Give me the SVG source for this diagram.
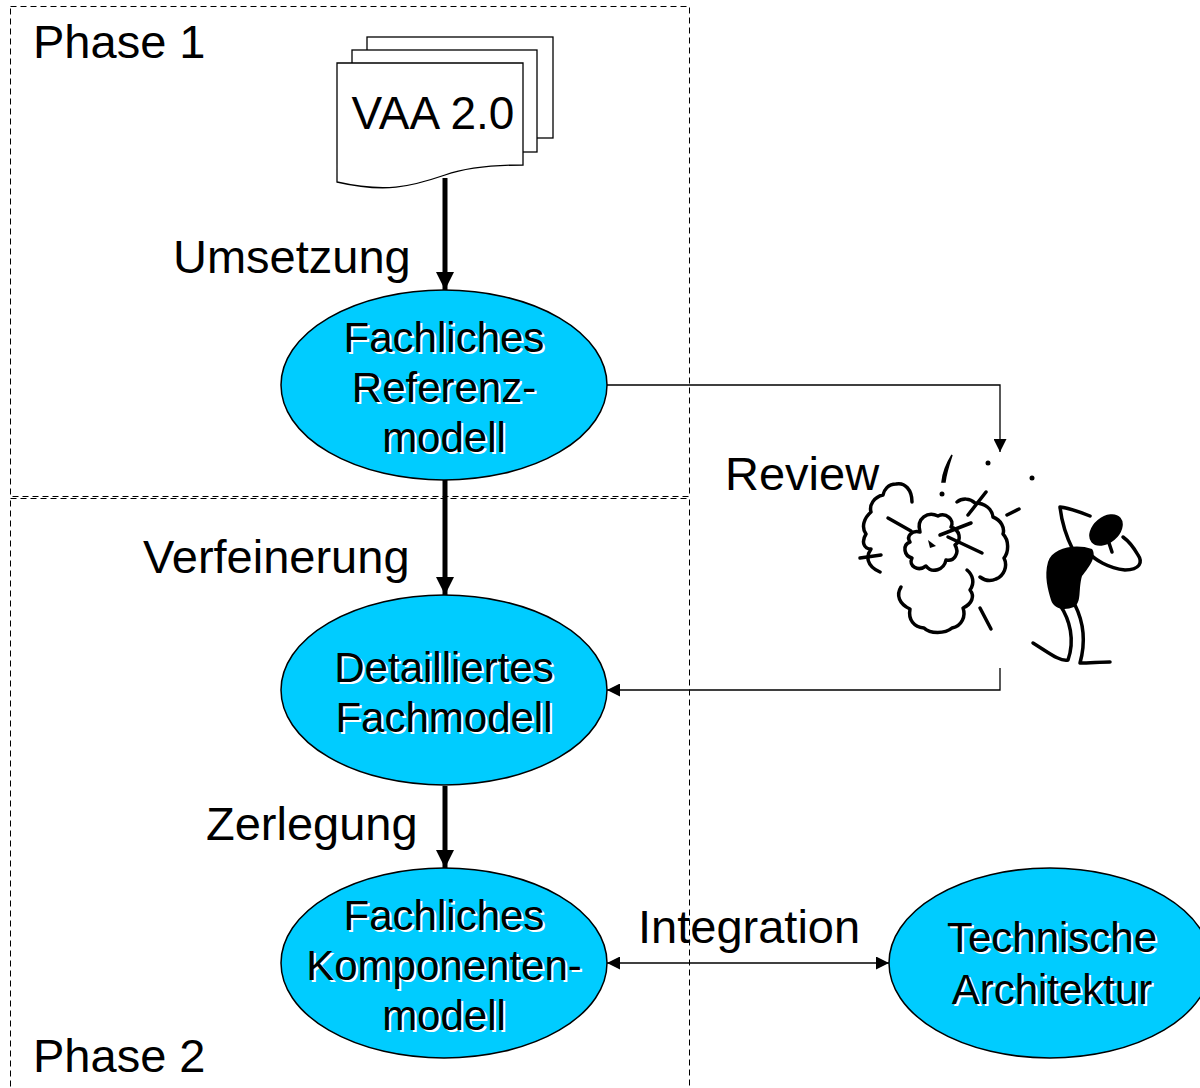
<svg xmlns="http://www.w3.org/2000/svg" width="1200" height="1088" viewBox="0 0 1200 1088">
  <style>
    .phase { fill: none; stroke: #000; stroke-width: 1; stroke-dasharray: 6 4; }
    .lbl { font-family: "Liberation Sans", Arial, sans-serif; font-size: 47px; fill: #000; }
    .ell { fill: #00CCFF; stroke: #000; stroke-width: 1.5; }
    .nt { font-family: "Liberation Sans", Arial, sans-serif; font-size: 42px; text-anchor: middle; }
    .sh { fill: #fff; }
    .fg { fill: #000; }
    .thick { stroke: #000; stroke-width: 5; fill: none; }
    .thin { stroke: #000; stroke-width: 1.3; fill: none; }
    .doc { fill: #fff; stroke: #000; stroke-width: 1.3; }
    .ink { fill: none; stroke: #000; stroke-width: 3.5; stroke-linecap: round; stroke-linejoin: round; }
  </style>
  <defs>
    <marker id="bigHead" viewBox="0 0 10 10" refX="10" refY="5" markerWidth="4.4" markerHeight="3.6" markerUnits="strokeWidth" orient="auto">
      <path d="M0,0 L10,5 L0,10 Z" fill="#000"/>
    </marker>
    <marker id="head" viewBox="0 0 10 10" refX="10" refY="5" markerWidth="11" markerHeight="10" markerUnits="strokeWidth" orient="auto-start-reverse">
      <path d="M0,0 L10,5 L0,10 Z" fill="#000"/>
    </marker>
  </defs>

  <rect width="1200" height="1088" fill="#fff"/>

  <!-- phase frames -->
  <g id="phase1">
    <rect class="phase" x="10.5" y="6.5" width="679" height="490"/>
    <text class="lbl" x="33" y="58">Phase 1</text>
  </g>
  <g id="phase2">
    <rect class="phase" x="10.5" y="498.5" width="679" height="600"/>
    <text class="lbl" x="33" y="1072">Phase 2</text>
  </g>

  <!-- connectors -->
  <g id="connectors">
    <line class="thick" x1="445" y1="178" x2="445" y2="290" marker-end="url(#bigHead)"/>
    <line class="thick" x1="445" y1="480" x2="445" y2="595" marker-end="url(#bigHead)"/>
    <line class="thick" x1="445" y1="786" x2="445" y2="868" marker-end="url(#bigHead)"/>
    <polyline class="thin" points="607,385 1000,385 1000,452" marker-end="url(#head)"/>
    <polyline class="thin" points="1000,668 1000,690 607,690" marker-end="url(#head)"/>
    <line class="thin" x1="607" y1="963" x2="889" y2="963" marker-start="url(#head)" marker-end="url(#head)"/>
    <text class="lbl" x="173" y="273">Umsetzung</text>
    <text class="lbl" x="143" y="573">Verfeinerung</text>
    <text class="lbl" x="206" y="840">Zerlegung</text>
    <text class="lbl" x="725" y="490">Review</text>
    <text class="lbl" x="638" y="943">Integration</text>
  </g>

  <!-- document stack -->
  <g id="vaa">
    <rect class="doc" x="367" y="37" width="186" height="101"/>
    <rect class="doc" x="352" y="50" width="185" height="102"/>
    <path class="doc" d="M337,63 H523 V165 C490,165 465,168 445,175 C410,187 385,193 337,182 Z"/>
    <text x="433" y="129" font-family="Liberation Sans, Arial, sans-serif" font-size="46" text-anchor="middle">VAA 2.0</text>
  </g>

  <g id="referenzmodell">
    <ellipse class="ell" cx="444" cy="385" rx="163" ry="95"/>
    <text class="nt sh" x="446" y="354">Fachliches</text>
    <text class="nt sh" x="446" y="404">Referenz-</text>
    <text class="nt sh" x="446" y="454">modell</text>
    <text class="nt fg" x="444" y="352">Fachliches</text>
    <text class="nt fg" x="444" y="402">Referenz-</text>
    <text class="nt fg" x="444" y="452">modell</text>
  </g>

  <g id="fachmodell">
    <ellipse class="ell" cx="444" cy="690" rx="163" ry="95"/>
    <text class="nt sh" x="446" y="684">Detailliertes</text>
    <text class="nt sh" x="446" y="734">Fachmodell</text>
    <text class="nt fg" x="444" y="682">Detailliertes</text>
    <text class="nt fg" x="444" y="732">Fachmodell</text>
  </g>

  <g id="komponentenmodell">
    <ellipse class="ell" cx="444" cy="963" rx="163" ry="95"/>
    <text class="nt sh" x="446" y="932">Fachliches</text>
    <text class="nt sh" x="446" y="982">Komponenten-</text>
    <text class="nt sh" x="446" y="1032">modell</text>
    <text class="nt fg" x="444" y="930">Fachliches</text>
    <text class="nt fg" x="444" y="980">Komponenten-</text>
    <text class="nt fg" x="444" y="1030">modell</text>
  </g>

  <g id="architektur">
    <ellipse class="ell" cx="1050" cy="963" rx="161" ry="95"/>
    <text class="nt sh" x="1054" y="954">Technische</text>
    <text class="nt sh" x="1054" y="1006">Architektur</text>
    <text class="nt fg" x="1052" y="952">Technische</text>
    <text class="nt fg" x="1052" y="1004">Architektur</text>
  </g>

  <!-- review clipart: burst cloud and startled figure -->
  <g id="review-art">
    <!-- sparks -->
    <path d="M952,455 C947,463 943,472 942,482 L945,482 C946,473 949,464 952,455 Z" fill="#000" stroke="#000" stroke-width="1.5"/>
    <circle cx="988" cy="463" r="2.5" fill="#000"/>
    <circle cx="1032" cy="478" r="2.5" fill="#000"/>
    <circle cx="942" cy="494" r="2.5" fill="#000"/>
    <line class="ink" x1="968" y1="515" x2="986" y2="492" stroke-width="3"/>
    <line class="ink" x1="1007" y1="515" x2="1019" y2="509" stroke-width="2.5"/>
    <line class="ink" x1="980" y1="608" x2="991" y2="629" stroke-width="3"/>
    <line class="ink" x1="888" y1="518" x2="911" y2="531" stroke-width="3"/>
    <line class="ink" x1="940" y1="535" x2="971" y2="523" stroke-width="2.5"/>
    <line class="ink" x1="948" y1="537" x2="982" y2="553" stroke-width="2.5"/>
    <!-- outer cloud, left -->
    <path class="ink" d="M912,502 C912,490 905,482 896,484 C888,484 884,490 883,495 C874,497 869,505 871,512 C864,518 861,527 866,534 C861,542 864,549 871,549 C866,556 866,566 880,572"/>
    <line class="ink" x1="860" y1="558" x2="881" y2="555"/>
    <!-- outer cloud, bottom -->
    <path class="ink" d="M901,587 C896,595 899,604 910,609 C908,620 914,627 924,628 C930,634 945,634 952,628 C962,626 966,616 963,608 C972,604 975,596 970,590 C975,583 973,575 967,570"/>
    <!-- outer cloud, right -->
    <path class="ink" d="M957,502 C962,498 970,498 975,503 C985,503 992,509 993,517 C1001,520 1005,528 1003,534 C1009,540 1009,552 1004,558 C1008,566 1004,576 996,579 C990,582 984,580 980,577"/>
    <!-- inner cloud -->
    <path class="ink" d="M920,532 C916,518 928,511 938,516 C946,512 955,520 951,527 C960,530 962,540 955,545 C960,553 954,562 946,560 C944,570 932,574 926,566 C918,572 908,566 912,558 C904,556 902,545 910,542 C906,536 912,530 920,532"/>
    <path d="M928,540 L936,546 L930,548 Z" fill="#000"/>
    <!-- figure -->
    <path d="M1048,562 C1052,548 1075,543 1092,549 C1097,556 1090,566 1082,576 C1078,590 1082,602 1074,607 C1064,611 1054,609 1051,600 C1048,590 1044,576 1048,562 Z" fill="#000"/>
    <ellipse cx="1106" cy="530" rx="19" ry="13" transform="rotate(-40 1106 530)" fill="#000"/>
    <path class="ink" d="M1073,550 C1068,540 1062,525 1060,507 C1070,508 1080,512 1090,516"/>
    <path class="ink" d="M1088,552 C1095,560 1108,568 1125,570 C1140,570 1143,562 1138,555 C1134,548 1130,542 1123,537"/>
    <path class="ink" d="M1108,540 L1112,552"/>
    <path class="ink" d="M1060,605 C1070,620 1075,640 1068,660 C1060,662 1048,652 1033,643"/>
    <path class="ink" d="M1075,605 C1085,625 1085,645 1080,663 C1090,663 1100,662 1110,662"/>
  </g>
</svg>
